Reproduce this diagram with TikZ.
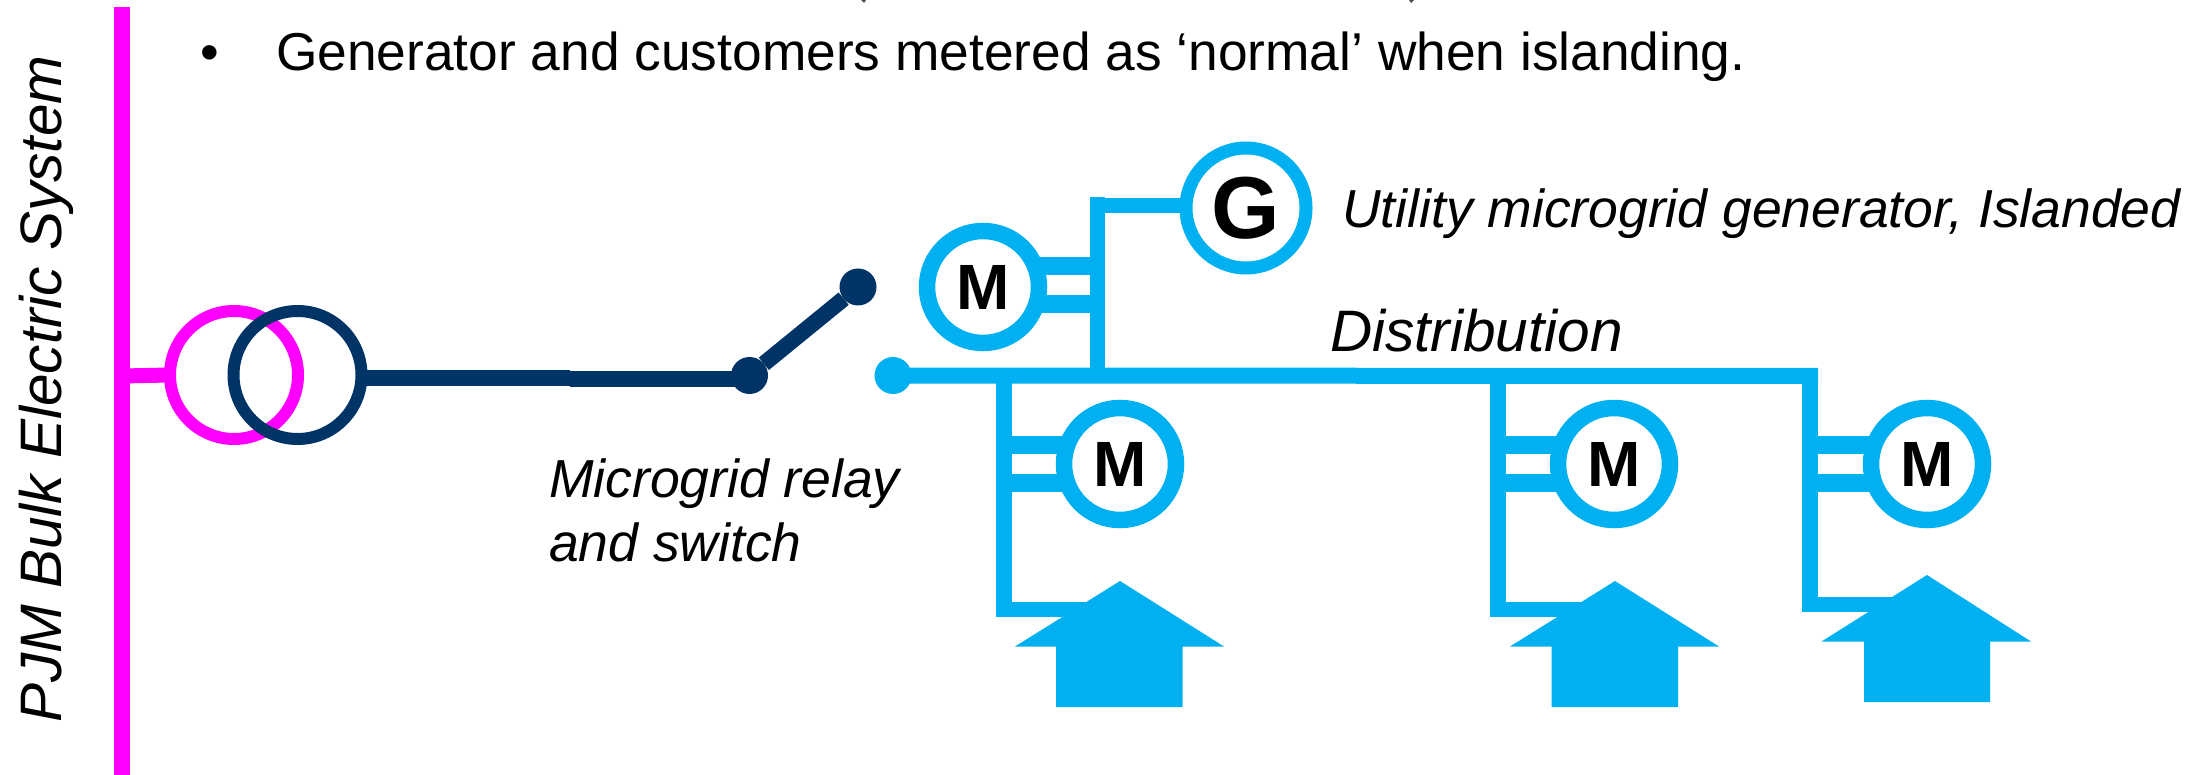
\documentclass[tikz,border=0pt]{standalone}
\usepackage{fontspec}
\setmainfont{Liberation Sans}
\definecolor{cy}{HTML}{00B0F0}
\definecolor{mg}{HTML}{FF00FF}
\definecolor{nv}{HTML}{003366}
\tikzset{
  lab/.style={anchor=base west,inner sep=0pt,outer sep=0pt,text=black,font=\itshape\fontsize{53.5}{60}\selectfont},
  labbig/.style={lab,font=\itshape\fontsize{58.5}{60}\selectfont},
  meter/.style={circle,draw=cy,fill=white,line width=16.5pt,minimum size=112pt,inner sep=0pt,outer sep=0pt,font=\bfseries\fontsize{64}{64}\selectfont},
  wire/.style={cy,line width=15pt},
  house/.style={fill=cy,draw=none},
  swdot/.style={circle,inner sep=0pt,outer sep=0pt,minimum size=37pt}
}
\begin{document}
\begin{tikzpicture}[x=1pt,y=-1pt]
\useasboundingbox (0,0) rectangle (2206,775);
% clipped remains of the line above
\fill[black!70] (861,0) -- (866,0) -- (864,3) -- cycle;
\fill[black!70] (1409,0) -- (1414,0) -- (1411,3) -- cycle;
% bulk system
\coordinate (bartop) at (122,7);
\coordinate (barbot) at (122,775);
\coordinate (barj) at (122,376);
\draw[mg,line width=16pt] (bartop) -- (barbot);
\node[circle,draw=mg,line width=12pt,minimum size=128pt,inner sep=0pt,outer sep=0pt] (tp) at (234,375) {};
\node[circle,draw=nv,line width=12pt,minimum size=128pt,inner sep=0pt,outer sep=0pt] (ts) at (297.5,375) {};
\draw[mg,line width=15pt] (barj) -- (tp.west);
% switch
\node[swdot,fill=nv] (swa) at (749.5,375.5) {};
\node[swdot,fill=nv] (swb) at (858,287) {};
\coordinate (tsout) at (365,378);
\coordinate (tsmid) at (570,378);
\coordinate (tsmid2) at (570,379);
\coordinate (swin) at (749,379);
\draw[nv,line width=15.5pt] (tsout) -- (tsmid);
\draw[nv,line width=15.5pt] (tsmid2) -- (swin);
\draw[nv,line width=16pt] (swa) -- (swb);
% bus
\node[swdot,fill=cy] (busst) at (893,375.5) {};
\coordinate (busend) at (1818,376);
\draw[cy,line width=16pt] (busst.center) -- (busend);
% generator branch
\coordinate (gtop) at (1097,197);
\coordinate (gbot) at (1097,376);
\draw[wire] (gtop) -- (gbot);
\coordinate (gj) at (1090,205.5);
\coordinate (gin) at (1190,205.5);
\draw[wire] (gj) -- (gin);
\node[circle,draw=cy,fill=white,line width=13pt,minimum size=120pt,inner sep=0pt,outer sep=0pt,font=\bfseries\fontsize{88}{88}\selectfont] (gen) at (1246,208) {G};
% top meter
\coordinate (m0a) at (1097,266);
\coordinate (m0b) at (1097,304);
\coordinate (m0ae) at (1036,266);
\coordinate (m0be) at (1036,304);
\draw[cy,line width=18pt] (m0a) -- (m0ae);
\draw[cy,line width=18pt] (m0b) -- (m0be);
\node[meter] (m0) at (983,287) {M};
% branch 1
\coordinate (b1t) at (1004,376);
\coordinate (b1c) at (1004,609);
\coordinate (b1e) at (1100,609);
\draw[cy,line width=16pt] (b1t) -- (b1c);
\draw[cy,line width=15pt] (996,609) -- (b1e);
\draw[cy,line width=18pt] (b1c |- 0,444.5) -- (1070,444.5);
\draw[cy,line width=18pt] (b1c |- 0,483) -- (1070,483);
\node[meter] (m1) at (1120,464) {M};
\fill[house] (1120,581) -- (1224,646.5) -- (1182.5,646.5) -- (1182.5,707) -- (1056,707) -- (1056,646.5) -- (1015,646.5) -- cycle;
% branch 2
\coordinate (b2t) at (1498,376);
\coordinate (b2c) at (1498,609);
\coordinate (b2e) at (1590,609);
\draw[cy,line width=16pt] (b2t) -- (b2c);
\draw[cy,line width=15pt] (1490,609) -- (b2e);
\draw[cy,line width=18pt] (b2c |- 0,444.5) -- (1565,444.5);
\draw[cy,line width=18pt] (b2c |- 0,483) -- (1565,483);
\node[meter] (m2) at (1614,464) {M};
\fill[house] (1615,581) -- (1719,646.5) -- (1678,646.5) -- (1678,707) -- (1551.5,707) -- (1551.5,646.5) -- (1510,646.5) -- cycle;
% branch 3
\coordinate (b3t) at (1810,369);
\coordinate (b3c) at (1810,604.5);
\coordinate (b3e) at (1900,604.5);
\draw[cy,line width=16pt] (b3t) -- (b3c);
\draw[cy,line width=15pt] (1802,604.5) -- (b3e);
\draw[cy,line width=18pt] (b3c |- 0,444.5) -- (1875,444.5);
\draw[cy,line width=18pt] (b3c |- 0,483) -- (1875,483);
\node[meter] (m3) at (1927,464) {M};
\fill[house] (1927,575) -- (2031,641.5) -- (1990,641.5) -- (1990,702) -- (1864,702) -- (1864,641.5) -- (1821.5,641.5) -- cycle;
% text
\node[anchor=base west,inner sep=0pt,font=\fontsize{53.3}{60}\selectfont] (bul) at (200,71) {•};
\node[anchor=base west,inner sep=0pt,font=\fontsize{53.3}{60}\selectfont] (head) at (276,71) {Generator and customers metered as ‘normal’ when islanding.};
\node[labbig] (sys) at (61,722) [rotate=90] {PJM Bulk Electric System};
\node[lab] (rel1) at (549,497) {Microgrid relay};
\node[lab] (rel2) at (549,561) {and switch};
\node[labbig] (dist) at (1330,352) {Distribution};
\node[lab] (util) at (1342,228) {Utility microgrid generator, Islanded};
\end{tikzpicture}
\end{document}
